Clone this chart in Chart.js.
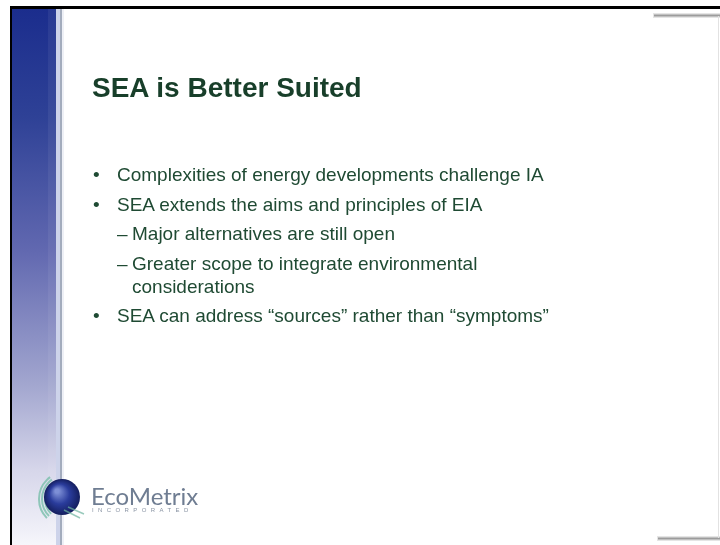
<!DOCTYPE html>
<html>
<head>
<meta charset="utf-8">
<script src="https://cdn.jsdelivr.net/npm/chart.js@4"></script>
<style>
  html, body { margin: 0; padding: 0; background: #fff; }
  #wrap { position: relative; width: 720px; height: 545px; overflow: hidden; }
  #slide { position: absolute; left: 0; top: 0; }
  #title {
    position: absolute; left: 92px; top: 74px;
    font: bold 28px Arial, "Liberation Sans", sans-serif; line-height: 28px;
    color: #183f2a; white-space: nowrap;
  }
  #bullets { position: absolute; left: 0; top: 163px; width: 680px; }
  .item {
    position: relative; font: 19px Arial, "Liberation Sans", sans-serif;
    line-height: 23px; color: #1f4a33; margin-top: 6.5px;
  }
  .item:first-child { margin-top: 0; }
  .lvl1 { margin-left: 117px; white-space: nowrap; }
  .lvl2 { margin-left: 132px; width: 360px; }
  .mark { position: absolute; top: 0; }
  .lvl1 .mark { left: -24px; }
  .lvl2 .mark { left: -15px; }
  #logoName {
    position: absolute; left: 91px; top: 481px;
    font: 24px Lato, "Open Sans", sans-serif; color: #6f7d92; letter-spacing: 0px;
  }
  #logoTag {
    position: absolute; left: 92px; top: 507px;
    font: 6px Arial, sans-serif; color: #8a94a4; letter-spacing: 4.4px;
  }
</style>
</head>
<body>
<div id="wrap">
  <canvas id="slide" width="720" height="545"></canvas>
  <div id="title"></div>
  <div id="bullets"></div>
  <div id="logoName"></div>
  <div id="logoTag"></div>
</div>
<script>
// スライドの文字
const titleText = 'SEA is Better Suited';
const bulletTexts = [
  'Complexities of energy developments challenge IA',
  'SEA extends the aims and principles of EIA',
  'Major alternatives are still open',
  'Greater scope to integrate environmental considerations',
  'SEA can address \u201csources\u201d rather than \u201csymptoms\u201d'
];
const bulletLevels = [1, 1, 2, 2, 1];
const logoName = 'EcoMetrix';
const logoTagline = 'INCORPORATED';

// 背景（枠・左の青い帯・ロゴの地球）を描くプラグイン
const slideBackground = {
  id: 'slideBackground',
  beforeDraw(chart) {
    const ctx = chart.ctx;
    const W = chart.width, H = chart.height;
    ctx.save();
    ctx.fillStyle = '#ffffff';
    ctx.fillRect(0, 0, W, H);

    // 左の青いグラデーション帯
    const g = ctx.createLinearGradient(0, 9, 0, H);
    g.addColorStop(0, '#1b2d8d');
    g.addColorStop(0.2, '#2e4196');
    g.addColorStop(0.45, '#6168b0');
    g.addColorStop(0.7, '#a2a6cf');
    g.addColorStop(0.86, '#d6d6ea');
    g.addColorStop(1, '#f6f6fb');
    ctx.fillStyle = g;
    ctx.fillRect(12, 9, 44, H - 9);
    ctx.fillStyle = 'rgba(255,255,255,0.06)';
    ctx.fillRect(48, 9, 8, H - 9);

    // 明るい縦線と灰色の縦線
    ctx.fillStyle = '#cdd3ea';
    ctx.fillRect(56, 9, 4, H - 9);
    ctx.fillStyle = '#a3acbd';
    ctx.fillRect(60, 9, 2, H - 9);
    ctx.fillStyle = '#eef0f6';
    ctx.fillRect(62, 9, 2, H - 9);

    // 黒い枠
    ctx.fillStyle = '#000000';
    ctx.fillRect(10, 6, W - 10, 3);
    ctx.fillRect(10, 6, 2, H - 6);

    // 右上・右下の灰色の線
    ctx.fillStyle = 'rgba(150,150,150,0.25)';
    ctx.fillRect(653, 13, W - 653, 5);
    ctx.fillRect(657, 536, W - 657, 5);
    ctx.fillStyle = '#9c9c9c';
    ctx.fillRect(654, 14.5, W - 654, 2);
    ctx.fillRect(658, 537.5, W - 658, 2);
    ctx.fillStyle = '#e2e2e2';
    ctx.fillRect(718, 16, 1, 522);

    // ロゴの地球
    const cx = 62, cy = 497, r = 18;
    ctx.strokeStyle = 'rgba(120,190,170,0.8)';
    ctx.lineWidth = 2;
    for (let i = 0; i < 3; i++) {
      ctx.beginPath();
      ctx.arc(cx + 4, cy + 2, r + 3 + i * 3, Math.PI * 0.75, Math.PI * 1.3);
      ctx.stroke();
    }
    const rg = ctx.createRadialGradient(cx - 5, cy - 6, 2, cx, cy, r);
    rg.addColorStop(0, '#7d8fd6');
    rg.addColorStop(0.5, '#2a3c9c');
    rg.addColorStop(1, '#141e5e');
    ctx.fillStyle = rg;
    ctx.beginPath();
    ctx.arc(cx, cy, r, 0, Math.PI * 2);
    ctx.fill();
    ctx.strokeStyle = 'rgba(110,180,160,0.7)';
    ctx.lineWidth = 1.5;
    ctx.beginPath();
    ctx.moveTo(cx + 2, cy + 13);
    ctx.lineTo(cx + 18, cy + 21);
    ctx.moveTo(cx + 6, cy + 10);
    ctx.lineTo(cx + 22, cy + 17);
    ctx.stroke();
    ctx.restore();
  }
};

new Chart(document.getElementById('slide').getContext('2d'), {
  type: 'scatter',
  data: { datasets: [] },
  options: {
    responsive: false,
    animation: false,
    layout: { padding: 0 },
    plugins: { legend: { display: false }, tooltip: { enabled: false } },
    scales: { x: { display: false }, y: { display: false } }
  },
  plugins: [slideBackground]
});

// 文字を配置
document.getElementById('title').textContent = titleText;
const list = document.getElementById('bullets');
bulletTexts.forEach((t, i) => {
  const div = document.createElement('div');
  div.className = 'item lvl' + bulletLevels[i];
  const mark = document.createElement('span');
  mark.className = 'mark';
  mark.textContent = bulletLevels[i] === 1 ? '\u2022' : '\u2013';
  div.appendChild(mark);
  div.appendChild(document.createTextNode(t));
  list.appendChild(div);
});
document.getElementById('logoName').textContent = logoName;
document.getElementById('logoTag').textContent = logoTagline;
</script>
</body>
</html>
